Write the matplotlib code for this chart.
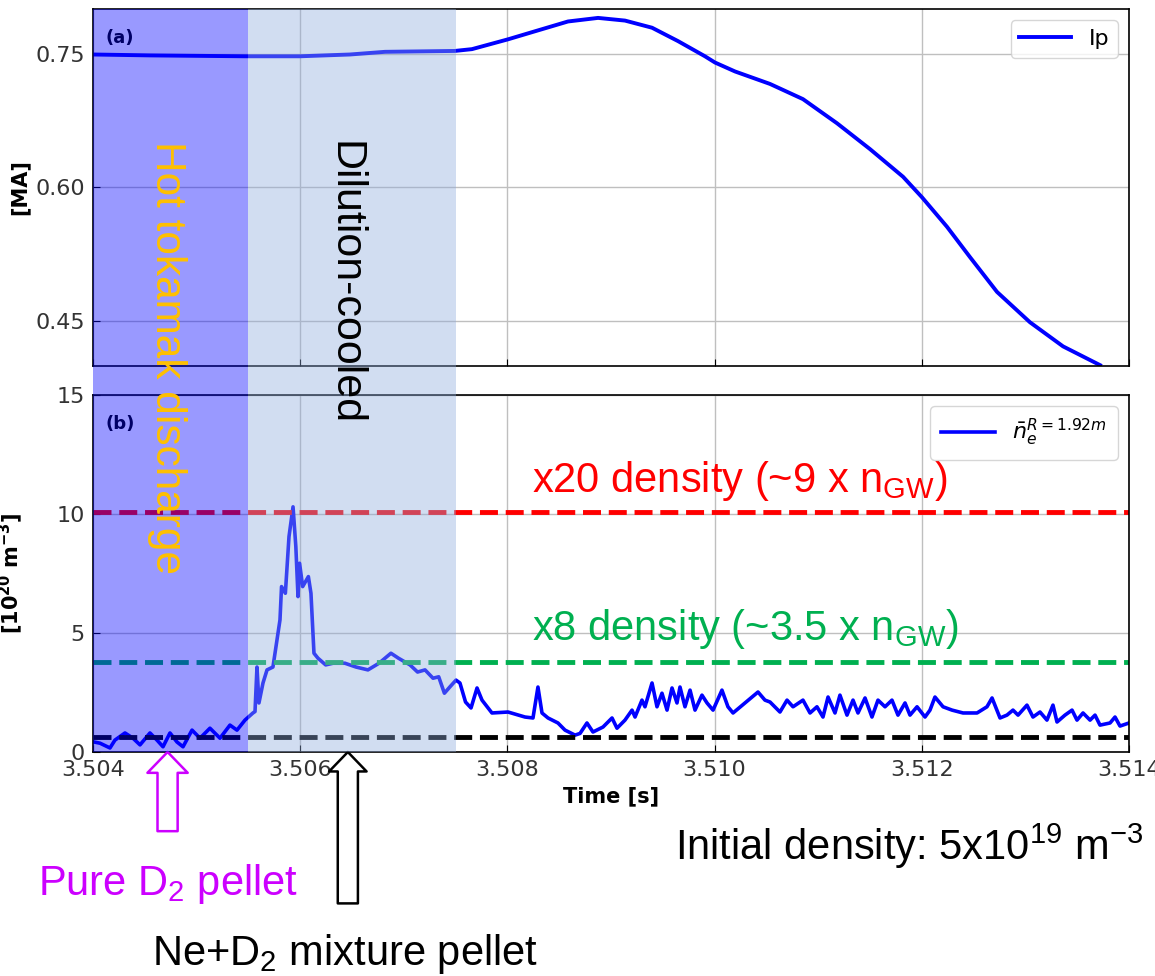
import matplotlib.pyplot as plt
from matplotlib.patches import Rectangle
from matplotlib.ticker import FormatStrFormatter
from matplotlib.transforms import blended_transform_factory

# time origin of the window [s]; traces are stored as ms after T0
T0 = 3.504

# plasma current (panel a)
t_ip_ms = [0.000, 0.550, 1.467, 1.998, 2.480, 2.819, 3.494, 3.658, 4.006, 4.266,
           4.585, 4.875, 5.135, 5.396, 5.647, 5.907, 6.004, 6.197, 6.535, 6.853,
           7.181, 7.500, 7.819, 8.002, 8.243, 8.465, 8.726, 9.044, 9.363, 9.720]
ip_ma = [0.749, 0.748, 0.747, 0.747, 0.749, 0.752, 0.753, 0.755, 0.766, 0.775,
         0.786, 0.790, 0.787, 0.779, 0.764, 0.747, 0.740, 0.730, 0.716, 0.699,
         0.672, 0.643, 0.612, 0.589, 0.556, 0.522, 0.483, 0.449, 0.422, 0.401]

# line-integrated density at R = 1.92 m (panel b), 1e20 m^-3
t_ne_ms = [0.000, 0.068, 0.164, 0.212, 0.309, 0.386, 0.454, 0.550, 0.618, 0.676,
           0.743, 0.811, 0.869, 0.956, 1.033, 1.129, 1.226, 1.322, 1.390, 1.467,
           1.544, 1.564, 1.583, 1.602, 1.641, 1.680, 1.737, 1.776, 1.805, 1.820,
           1.857, 1.892, 1.931, 1.958, 1.979, 1.994, 2.024, 2.061, 2.079, 2.104,
           2.133, 2.172, 2.246, 2.317, 2.432, 2.539, 2.654, 2.761, 2.876, 2.949,
           3.060, 3.133, 3.205, 3.282, 3.337, 3.392, 3.446, 3.504, 3.542, 3.596,
           3.649, 3.707, 3.755, 3.851, 4.006, 4.170, 4.247, 4.295, 4.334, 4.392,
           4.488, 4.556, 4.653, 4.701, 4.768, 4.826, 4.923, 5.010, 5.058, 5.135,
           5.203, 5.232, 5.299, 5.328, 5.396, 5.444, 5.492, 5.541, 5.589, 5.637,
           5.666, 5.714, 5.763, 5.811, 5.878, 5.927, 5.985, 6.071, 6.129, 6.178,
           6.293, 6.361, 6.419, 6.486, 6.535, 6.631, 6.699, 6.757, 6.853, 6.921,
           6.988, 7.046, 7.095, 7.162, 7.210, 7.278, 7.336, 7.384, 7.452, 7.519,
           7.577, 7.645, 7.712, 7.770, 7.838, 7.886, 7.954, 8.031, 8.079, 8.127,
           8.205, 8.292, 8.398, 8.533, 8.629, 8.678, 8.755, 8.822, 8.880, 8.929,
           9.015, 9.073, 9.141, 9.208, 9.266, 9.305, 9.382, 9.450, 9.498, 9.556,
           9.624, 9.672, 9.720, 9.817, 9.865, 9.913, 10.000]
ne = [0.43, 0.37, 0.17, 0.50, 0.80, 0.58, 0.30, 0.80, 0.50, 0.22,
      0.80, 0.42, 0.22, 0.92, 0.58, 1.00, 0.58, 1.13, 0.92, 1.34,
      1.64, 1.70, 3.57, 2.06, 2.90, 3.45, 3.57, 4.70, 5.55, 6.95,
      6.67, 9.05, 10.30, 8.63, 6.53, 7.93, 6.95, 7.23, 7.37, 6.67,
      4.15, 3.94, 3.66, 3.73, 3.73, 3.57, 3.45, 3.73, 4.15, 3.94,
      3.66, 3.36, 3.45, 3.10, 3.16, 2.47, 2.74, 3.02, 2.90, 2.10,
      1.85, 2.69, 2.18, 1.64, 1.68, 1.47, 1.43, 2.73, 1.64, 1.43,
      1.22, 0.92, 0.71, 0.78, 1.22, 0.84, 1.05, 1.43, 1.00, 1.34,
      1.76, 1.47, 2.18, 1.90, 2.90, 1.90, 2.47, 1.76, 2.69, 2.06,
      2.73, 1.90, 2.60, 1.76, 2.39, 2.06, 1.76, 2.60, 1.90, 1.64,
      2.06, 2.31, 2.52, 2.18, 2.10, 1.68, 2.18, 1.90, 2.18, 1.64,
      1.90, 1.47, 2.31, 1.64, 2.39, 1.55, 2.18, 1.64, 2.27, 1.47,
      2.18, 1.90, 2.18, 1.55, 2.06, 1.55, 1.90, 1.47, 1.76, 2.31,
      1.90, 1.76, 1.64, 1.64, 1.90, 2.27, 1.43, 1.55, 1.76, 1.55,
      1.97, 1.47, 1.68, 1.34, 1.97, 1.26, 1.55, 1.76, 1.34, 1.64,
      1.34, 1.55, 1.13, 1.22, 1.47, 1.09, 1.22]

# reference density levels, 1e20 m^-3
level_x20 = 10.1
level_x8 = 3.8
level_init = 0.63

# phases and pellet arrival times [s]
hot_end = 3.5055
cooled_end = 3.5075
pure_d2_t = 3.50472
mix_t = 3.50646

t_ip = [T0 + v / 1000 for v in t_ip_ms]
t_ne = [T0 + v / 1000 for v in t_ne_ms]

plt.rcParams['font.family'] = 'DejaVu Sans'

fig = plt.figure(figsize=(11.55, 9.76), dpi=100)
ax1 = fig.add_axes([0.0805, 0.625, 0.897, 0.3658])
ax2 = fig.add_axes([0.0805, 0.2295, 0.897, 0.3658], sharex=ax1)

# panel (a): plasma current
ax1.plot(t_ip, ip_ma, color='blue', lw=2.8, label='Ip')
ax1.set_ylim(0.40, 0.80)
ax1.set_yticks([0.45, 0.60, 0.75])
ax1.yaxis.set_major_formatter(FormatStrFormatter('%.2f'))
ax1.set_ylabel('[MA]', fontweight='bold', fontsize=15)
ax1.yaxis.set_label_coords(-0.061, 0.5)
ax1.legend(loc='upper right', fontsize=16, handlelength=2.3)
ax1.text(0.012, 0.92, '(a)', transform=ax1.transAxes, fontweight='bold',
         fontsize=13, va='center')
ax1.tick_params(labelbottom=False)

# panel (b): density
ax2.plot(t_ne, ne, color='blue', lw=2.6, label=r'$\bar{n}_e^{R=1.92m}$')
ax2.axhline(level_x20, color='red', ls='--', lw=3.5)
ax2.axhline(level_x8, color='#00b050', ls='--', lw=3.5)
ax2.axhline(level_init, color='black', ls='--', lw=3.5)
ax2.set_ylim(0, 15)
ax2.set_yticks([0, 5, 10, 15])
ax2.set_xlim(3.504, 3.514)
ax2.set_xticks([3.504, 3.506, 3.508, 3.510, 3.512, 3.514])
ax2.xaxis.set_major_formatter(FormatStrFormatter('%.3f'))
ax2.set_xlabel('Time [s]', fontweight='bold', fontsize=15)
ax2.set_ylabel(r'$\mathbf{[10^{20}\ m^{-3}]}$', fontsize=15)
ax2.yaxis.set_label_coords(-0.066, 0.5)
ax2.legend(loc='upper right', fontsize=16, handlelength=2.4, borderpad=0.5)
ax2.text(0.012, 0.92, '(b)', transform=ax2.transAxes, fontweight='bold',
         fontsize=13, va='center')

ann_font = ['Liberation Sans', 'DejaVu Sans']
ax2.text(3.50824, 10.92, r'x20 density (~9 x n$_{\mathregular{GW}}$)',
         color='red', fontsize=30, family=ann_font, va='baseline')
ax2.text(3.50824, 4.71, r'x8 density (~3.5 x n$_{\mathregular{GW}}$)',
         color='#00b050', fontsize=30, family=ann_font, va='baseline')

for ax in (ax1, ax2):
    ax.grid(True, color='#bfbfbf', lw=1.0)
    ax.tick_params(direction='in', labelsize=16, labelcolor='#333333',
                   length=5, pad=6)
    for s in ax.spines.values():
        s.set_linewidth(1.2)

# shaded phases spanning both panels
span = blended_transform_factory(ax2.transData, fig.transFigure)
ax2.add_artist(Rectangle((T0, 0.2295), hot_end - T0, 0.7613, transform=span,
                         fc=(0, 0, 1, 0.4), ec='none', zorder=4, clip_on=False))
ax2.add_artist(Rectangle((hot_end, 0.2295), cooled_end - hot_end, 0.7613,
                         transform=span, fc=(141 / 255, 170 / 255, 220 / 255, 0.4),
                         ec='none', zorder=4, clip_on=False))

# pellet arrows
ax2.annotate('', xy=(pure_d2_t, 0), xytext=(0, -57), textcoords='offset points',
             annotation_clip=False,
             arrowprops=dict(arrowstyle='simple,head_width=2.9,head_length=1.5,tail_width=1.45',
                             mutation_scale=10, fc='white', ec='#cc00ff', lw=1.8,
                             shrinkA=0, shrinkB=0))
ax2.annotate('', xy=(mix_t, 0), xytext=(0, -109), textcoords='offset points',
             annotation_clip=False,
             arrowprops=dict(arrowstyle='simple,head_width=2.7,head_length=1.4,tail_width=1.45',
                             mutation_scale=10, fc='white', ec='black', lw=1.8,
                             shrinkA=0, shrinkB=0))

fig.text(0.1446, 0.8555, 'Hot tokamak discharge', color='#ffc000', fontsize=30.5,
         family=ann_font, rotation=270, ha='center', va='top')
fig.text(0.2987, 0.8555, 'Dilution-cooled', color='black', fontsize=31,
         family=ann_font, rotation=270, ha='center', va='top')
fig.text(0.5844, 0.1189, r'Initial density: 5x10$^{\mathregular{19}}$ m$^{\mathregular{-3}}$',
         color='black', fontsize=30, family=ann_font, va='baseline')
fig.text(0.0329, 0.0830, r'Pure D$_{\mathregular{2}}$ pellet', color='#cc00ff',
         fontsize=30, family=ann_font, va='baseline')
fig.text(0.1316, 0.0113, r'Ne+D$_{\mathregular{2}}$ mixture pellet', color='black',
         fontsize=30, family=ann_font, va='baseline')

fig.savefig('out.png', dpi=100)
